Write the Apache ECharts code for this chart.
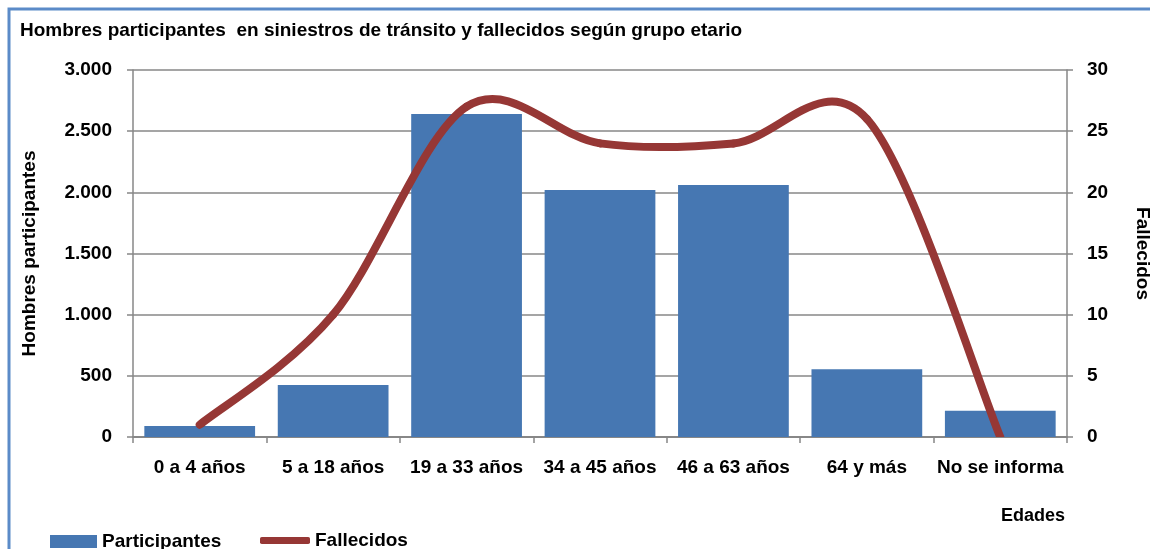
<!DOCTYPE html>
<html>
<head>
<meta charset="utf-8">
<script src="https://cdn.jsdelivr.net/npm/echarts@6/dist/echarts.min.js"></script>
<style>
html,body{margin:0;padding:0;background:#fff;}
#c{width:1150px;height:549px;}
</style>
</head>
<body>
<div id="c"></div>
<script>
const categories = ['0 a 4 años', '5 a 18 años', '19 a 33 años', '34 a 45 años', '46 a 63 años', '64 y más', 'No se informa'];
const participantes = [90, 425, 2640, 2020, 2060, 553, 215];
const fallecidos = [1, 10, 27, 24, 24, 26, 0];
const leftTicks = [0, 500, 1000, 1500, 2000, 2500, 3000];
const rightTicks = [0, 5, 10, 15, 20, 25, 30];

const FONT = '"Liberation Sans", Arial, sans-serif';
const RED = '#963735';
const chart = echarts.init(document.getElementById('c'));
const fmt = v => String(v).replace(/\B(?=(\d{3})+(?!\d))/g, '.');

// Excel-style smoothed line (Catmull-Rom via cubic Bezier), computed through the axes
function renderSmooth(params, api) {
  const i = params.dataIndex;
  const n = fallecidos.length;
  if (i >= n - 1) return null;
  const P = j => api.coord([Math.max(0, Math.min(n - 1, j)), fallecidos[Math.max(0, Math.min(n - 1, j))]]);
  const p0 = P(i - 1), p1 = P(i), p2 = P(i + 1), p3 = P(i + 2);
  const cs = params.coordSys;
  return {
    type: 'bezierCurve',
    shape: {
      x1: p1[0], y1: p1[1], x2: p2[0], y2: p2[1],
      cpx1: p1[0] + (p2[0] - p0[0]) / 6, cpy1: p1[1] + (p2[1] - p0[1]) / 6,
      cpx2: p2[0] - (p3[0] - p1[0]) / 6, cpy2: p2[1] - (p3[1] - p1[1]) / 6
    },
    style: { fill: null, stroke: RED, lineWidth: 8, lineCap: 'round', lineJoin: 'round' },
    clipPath: { type: 'rect', shape: { x: cs.x - 20, y: cs.y - 20, width: cs.width + 40, height: cs.height + 20 } }
  };
}

chart.setOption({
  animation: false,
  textStyle: { fontFamily: FONT },
  title: {
    text: 'Hombres participantes  en siniestros de tránsito y fallecidos según grupo etario',
    left: 15, top: 16,
    textStyle: { fontSize: 19, fontWeight: 'bold', color: '#000', fontFamily: FONT }
  },
  graphic: [
    { type: 'rect', shape: { x: 9, y: 9, width: 1300, height: 700 }, style: { fill: 'none', stroke: '#5B8BC8', lineWidth: 3 }, z: 100 },
    { type: 'text', x: 1033, y: 516, style: { text: 'Edades', fontSize: 18, fontWeight: 'bold', fill: '#000', align: 'center', verticalAlign: 'middle', fontFamily: FONT } }
  ],
  legend: [
    { data: [{ name: 'Participantes', icon: 'rect' }], left: 50, top: 532, itemWidth: 47, itemHeight: 13, itemGap: 4, padding: 0,
      textStyle: { fontSize: 19, fontWeight: 'bold', color: '#000', fontFamily: FONT } },
    { data: [{ name: 'Fallecidos', icon: 'roundRect' }], left: 260, top: 531, itemWidth: 50, itemHeight: 7, itemGap: 4, padding: 0,
      textStyle: { fontSize: 19, fontWeight: 'bold', color: '#000', fontFamily: FONT } }
  ],
  grid: { left: 133, right: 83, top: 70, bottom: 112, containLabel: false, outerBoundsMode: 'none' },
  xAxis: {
    type: 'category', data: categories,
    axisLine: { lineStyle: { color: '#878787', width: 2 } },
    axisTick: { show: true, length: 6, lineStyle: { color: '#878787', width: 1.5 } },
    axisLabel: { margin: 21, fontSize: 19, fontWeight: 'bold', color: '#000', interval: 0 }
  },
  yAxis: [
    {
      type: 'value', min: 0, max: 3000, interval: 500,
      name: 'Hombres participantes', nameLocation: 'middle', nameRotate: 90, nameGap: 94,
      nameTextStyle: { fontSize: 19, fontWeight: 'bold', color: '#000' },
      axisLine: { show: true, lineStyle: { color: '#878787', width: 1.5 } },
      axisTick: { show: true, length: 6, lineStyle: { color: '#878787', width: 1.5 } },
      splitLine: { lineStyle: { color: '#878787', width: 1.5 } },
      axisLabel: { margin: 21, fontSize: 19, fontWeight: 'bold', color: '#000', formatter: v => leftTicks.includes(v) ? fmt(v) : '' }
    },
    {
      type: 'value', min: 0, max: 30, interval: 5, position: 'right',
      name: 'Fallecidos', nameLocation: 'middle', nameRotate: -90, nameGap: 66,
      nameTextStyle: { fontSize: 19, fontWeight: 'bold', color: '#000' },
      axisLine: { show: true, lineStyle: { color: '#878787', width: 1.5 } },
      axisTick: { show: true, length: 6, lineStyle: { color: '#878787', width: 1.5 } },
      splitLine: { show: false },
      axisLabel: { margin: 20, fontSize: 19, fontWeight: 'bold', color: '#000', formatter: v => rightTicks.includes(v) ? String(v) : '' }
    }
  ],
  series: [
    {
      name: 'Participantes', type: 'bar', yAxisIndex: 0, data: participantes,
      barCategoryGap: '17%',
      itemStyle: { color: '#4677B2' }
    },
    {
      name: 'Fallecidos', type: 'custom', yAxisIndex: 1,
      data: fallecidos.map((v, i) => [i, v]),
      encode: { x: 0, y: 1 },
      renderItem: renderSmooth,
      itemStyle: { color: RED },
      z: 5
    }
  ]
});
</script>
</body>
</html>
